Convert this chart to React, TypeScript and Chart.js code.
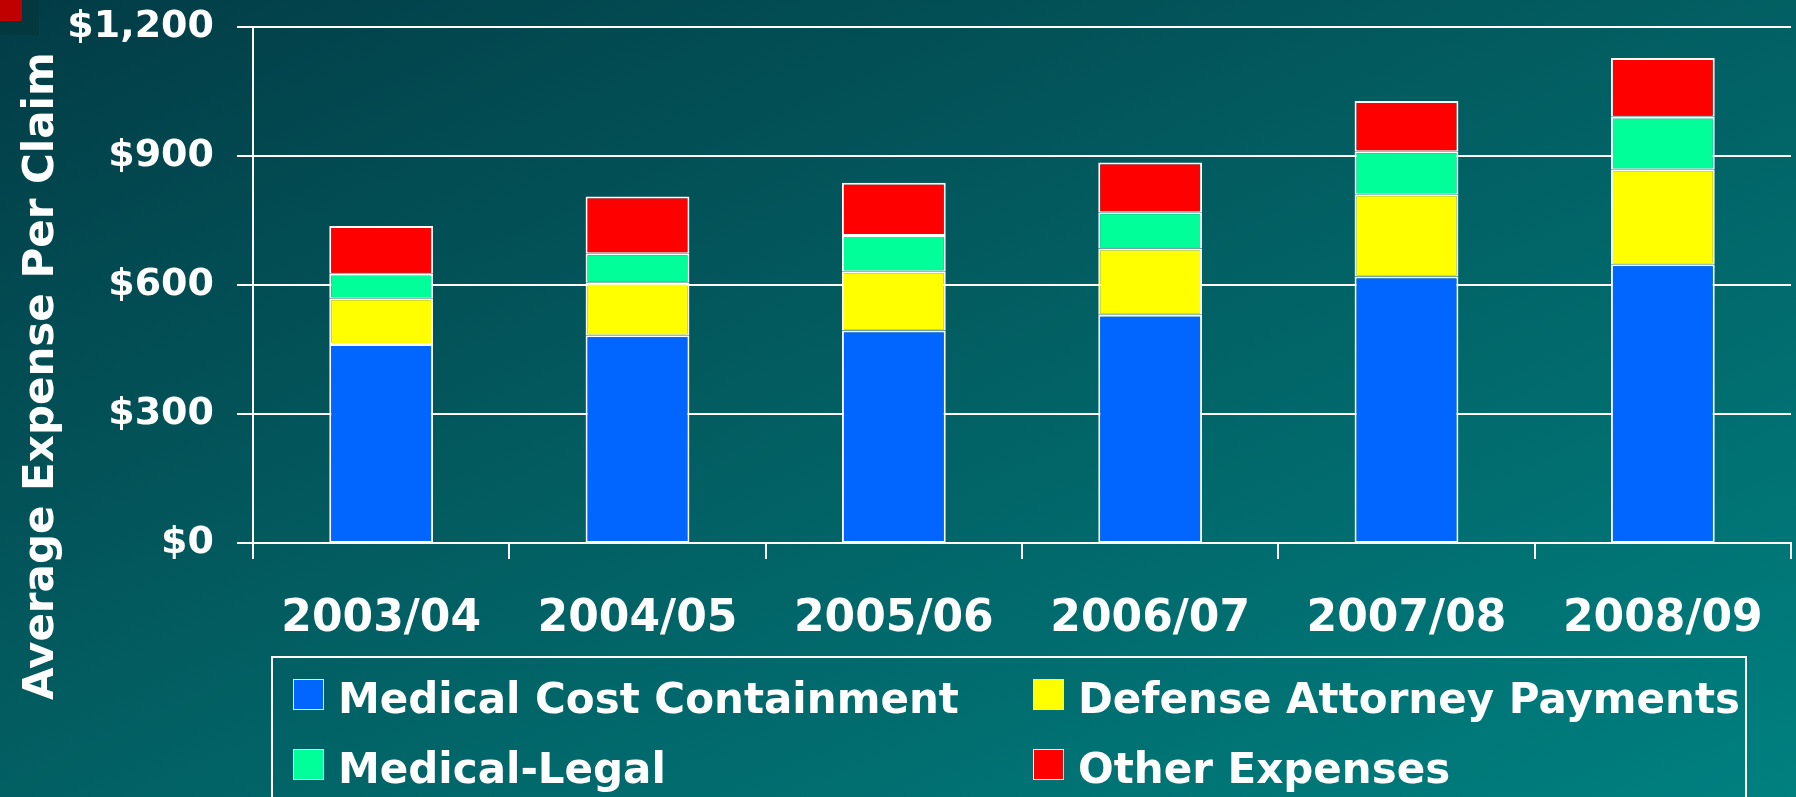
import React, { useEffect, useRef } from "react";
import { Chart, registerables } from "chart.js";
Chart.register(...registerables);

const categories = ["2003/04", "2004/05", "2005/06", "2006/07", "2007/08", "2008/09"];
const seriesNames = ["Medical Cost Containment", "Defense Attorney Payments", "Medical-Legal", "Other Expenses"];
const seriesColors = ["#0066FF", "#FFFF00", "#00FF99", "#FF0000"];
const medicalCostContainment = [463, 483, 494, 531, 620, 648];
const defenseAttorneyPayments = [106, 122, 138, 154, 191, 221];
const medicalLegal = [57, 69, 84, 84, 100, 122];
const otherExpenses = [111, 132, 122, 116, 117, 137];
const yMin = 0;
const yMax = 1200;
const yStep = 300;
const yTitle = "Average Expense Per Claim";

const W = 1796;
const H = 797;
const FONT = "'DejaVu Sans', Verdana, sans-serif";

export default function App() {
  const ref = useRef<HTMLCanvasElement | null>(null);

  useEffect(() => {
    document.body.style.margin = "0";
    if (!ref.current) return;
    const seriesData = [medicalCostContainment, defenseAttorneyPayments, medicalLegal, otherExpenses];
    const chart = new Chart(ref.current, {
      type: "bar",
      data: {
        labels: categories,
        datasets: seriesNames.map((name, i) => ({
          label: name,
          data: seriesData[i],
          backgroundColor: seriesColors[i],
          borderColor: "#FFFFFF",
          borderWidth: { top: 2, left: 2, right: 2, bottom: 1 },
          borderSkipped: false,
          barPercentage: 0.405,
          categoryPercentage: 1,
        })),
      },
      options: {
        responsive: false,
        animation: false,
        layout: { padding: { left: 0, top: 27, right: 5, bottom: 154 } },
        plugins: { legend: { display: false }, tooltip: { enabled: false }, title: { display: false } },
        scales: {
          x: {
            stacked: true,
            afterFit: (s: any) => { s.height = 100; s.paddingLeft = 0; s.paddingRight = 0; },
            grid: { drawOnChartArea: false, drawTicks: true, tickLength: 16, color: "#FFFFFF", lineWidth: 2 },
            border: { color: "#FFFFFF", width: 2 },
            ticks: { color: "#FFFFFF", padding: 34, font: { family: FONT, weight: "bold", size: 44 } },
          },
          y: {
            stacked: true,
            min: yMin,
            max: yMax,
            afterFit: (s: any) => { s.width = 253; s.paddingTop = 0; s.paddingBottom = 0; },
            grid: { color: "#FFFFFF", lineWidth: 2, tickLength: 16 },
            border: { color: "#FFFFFF", width: 2 },
            ticks: {
              stepSize: yStep,
              color: "#FFFFFF",
              padding: 23,
              font: { family: FONT, weight: "bold", size: 38 },
              callback: (v: any) => "$" + Number(v).toLocaleString("en-US"),
            },
          },
        },
      },
    });
    return () => chart.destroy();
  }, []);

  const legendPos = [
    { sx: 293, sy: 679, tx: 338 },
    { sx: 1033, sy: 679, tx: 1078 },
    { sx: 293, sy: 749, tx: 338 },
    { sx: 1033, sy: 749, tx: 1078 },
  ];

  return (
    <div
      style={{
        position: "relative",
        width: W,
        height: H,
        overflow: "hidden",
        background: "linear-gradient(to bottom right, #023c46 0%, #025c60 45%, #008080 100%)",
        fontFamily: FONT,
      }}
    >
      <div style={{ position: "absolute", left: 0, top: 0, width: 39, height: 35, background: "#03383f" }} />
      <div style={{ position: "absolute", left: 0, top: 0, width: 22, height: 21, background: "#C00000" }} />
      <canvas ref={ref} width={W} height={H} style={{ position: "absolute", left: 0, top: 0, width: W, height: H }} />
      <div
        style={{
          position: "absolute",
          left: 17.5,
          top: 700,
          transformOrigin: "0 0",
          transform: "rotate(-90deg)",
          whiteSpace: "nowrap",
          color: "#FFFFFF",
          fontWeight: "bold",
          fontSize: 42,
          lineHeight: "42px",
        }}
      >
        {yTitle}
      </div>
      <div
        style={{
          position: "absolute",
          left: 271,
          top: 656,
          width: 1476,
          height: 170,
          border: "2px solid #FFFFFF",
          boxSizing: "border-box",
        }}
      />
      {seriesNames.map((name, i) => (
        <React.Fragment key={name}>
          <div
            style={{
              position: "absolute",
              left: legendPos[i].sx,
              top: legendPos[i].sy,
              width: 31,
              height: 31,
              boxSizing: "border-box",
              background: seriesColors[i],
              border: "1.5px solid #E8E8E8",
            }}
          />
          <div
            style={{
              position: "absolute",
              left: legendPos[i].tx,
              top: legendPos[i].sy - 1.5,
              whiteSpace: "nowrap",
              color: "#FFFFFF",
              fontWeight: "bold",
              fontSize: 42,
              lineHeight: "42px",
            }}
          >
            {name}
          </div>
        </React.Fragment>
      ))}
    </div>
  );
}
